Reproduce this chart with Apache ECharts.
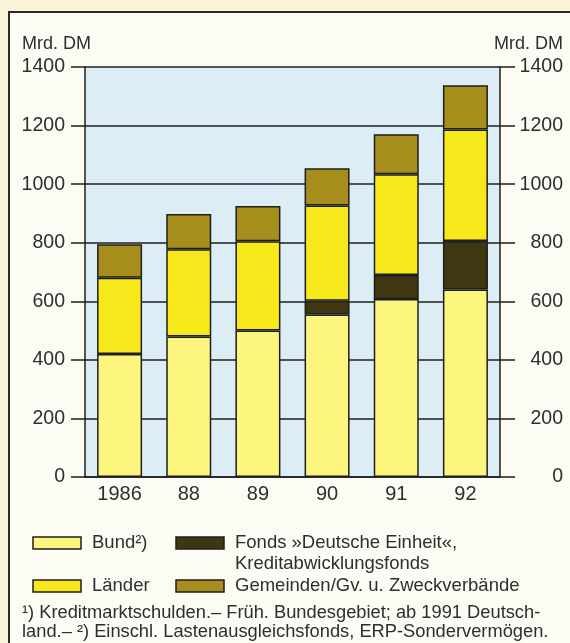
<!DOCTYPE html>
<html>
<head>
<meta charset="utf-8">
<script src="https://cdn.jsdelivr.net/npm/echarts@6/dist/echarts.min.js"></script>
<style>
  html, body { margin: 0; padding: 0; background: #faf5d8; overflow: hidden; }
  #wrap { position: relative; width: 570px; height: 643px; }
  #frame { position: absolute; left: 8px; top: 11px; width: 600px; height: 700px;
           border: 2px solid #2a2a2a; background: #fcfbf4; }
  #chart { position: absolute; left: 0; top: 0; width: 570px; height: 643px; }
</style>
</head>
<body>
<div id="wrap"><div id="frame"></div><div id="chart"></div></div>
<script>
// Kreditmarktschulden der öffentlichen Haushalte, Mrd. DM
const years     = ['1986', '88', '89', '90', '91', '92'];
const bund      = [420, 480, 500, 555, 608, 640];
const fonds     = [null, null, null, 47, 82, 166];
const laender   = [260, 298, 305, 325, 344, 381];
const gemeinden = [115, 120, 120, 127, 136, 151];

const seriesNames = [
  'Bund²)',
  'Fonds »Deutsche Einheit«,\nKreditabwicklungsfonds',
  'Länder',
  'Gemeinden/Gv. u. Zweckverbände'
];
const colors = ['#fcf57e', '#3f3612', '#f7e81c', '#a68d1c'];

const FONT = 'Liberation Sans';
const TXT = '#2e2e2e';
const LINE = '#1e1e1e';

const chart = echarts.init(document.getElementById('chart'), null, { renderer: 'canvas' });

function barSeries(name, data, color) {
  return {
    name: name,
    type: 'bar',
    stack: 'schulden',
    data: data,
    barWidth: 45,
    itemStyle: { color: color, borderColor: LINE, borderWidth: 1.5 },
    emphasis: { disabled: true }
  };
}

// legend drawn as swatch + label pairs
const legendItems = [
  { idx: 0, x: 33,  y: 543 },
  { idx: 1, x: 176, y: 543 },
  { idx: 2, x: 33,  y: 586 },
  { idx: 3, x: 176, y: 586 }
];
const graphics = [];
legendItems.forEach(function (it) {
  graphics.push({
    type: 'rect',
    shape: { x: it.x, y: it.y - 6, width: 48, height: 12 },
    style: { fill: colors[it.idx], stroke: LINE, lineWidth: 1.5 }
  });
  const lines = seriesNames[it.idx].split('\n');
  lines.forEach(function (t, k) {
    graphics.push({
      type: 'text',
      x: it.x + 59, y: it.y + k * 21,
      style: { text: t, font: '18.5px "' + FONT + '"', fill: TXT, textVerticalAlign: 'middle', textAlign: 'left' }
    });
  });
});

// unit labels
graphics.push({
  type: 'text', x: 22, y: 44,
  style: { text: 'Mrd. DM', font: '18px "' + FONT + '"', fill: TXT, textVerticalAlign: 'middle', textAlign: 'left' }
});
graphics.push({
  type: 'text', x: 563, y: 44,
  style: { text: 'Mrd. DM', font: '18px "' + FONT + '"', fill: TXT, textVerticalAlign: 'middle', textAlign: 'right' }
});

// footnotes
const footnotes = [
  '¹) Kreditmarktschulden.– Früh. Bundesgebiet; ab 1991 Deutsch-',
  'land.– ²) Einschl. Lastenausgleichsfonds, ERP-Sondervermögen.'
];
footnotes.forEach(function (t, k) {
  graphics.push({
    type: 'text', x: 22, y: 613 + k * 19,
    style: { text: t, font: '18.3px "' + FONT + '"', fill: TXT, textVerticalAlign: 'middle', textAlign: 'left' }
  });
});

const plainNum = function (v) { return String(v); };

const yCommon = {
  type: 'value',
  min: 0,
  max: 1400,
  interval: 200,
  axisLine: { show: true, lineStyle: { color: LINE, width: 1.5 } },
  axisTick: { show: true, length: 14, lineStyle: { color: LINE, width: 1.5 } },
};

chart.setOption({
  backgroundColor: 'transparent',
  animation: false,
  grid: {
    left: 85, right: 70, top: 67, bottom: 166,
    show: true, backgroundColor: '#ddedf6', borderWidth: 0
  },
  xAxis: {
    type: 'category',
    data: years,
    axisLine: { show: true, lineStyle: { color: LINE, width: 1.5 } },
    axisTick: { show: false },
    axisLabel: { color: TXT, fontFamily: FONT, fontSize: 20, margin: 7 }
  },
  yAxis: [
    Object.assign({}, yCommon, {
      position: 'left',
      axisLabel: { color: TXT, fontFamily: FONT, fontSize: 19.5, margin: 20, formatter: plainNum },
      splitLine: { show: true, lineStyle: { color: LINE, width: 1.5 } }
    }),
    Object.assign({}, yCommon, {
      position: 'right',
      axisTick: { show: true, length: 15, lineStyle: { color: LINE, width: 1.5 } },
      axisLabel: { color: TXT, fontFamily: FONT, fontSize: 19.5, margin: 63, align: 'right', formatter: plainNum },
      splitLine: { show: false }
    })
  ],
  series: [
    barSeries(seriesNames[0], bund, colors[0]),
    barSeries(seriesNames[1], fonds, colors[1]),
    barSeries(seriesNames[2], laender, colors[2]),
    barSeries(seriesNames[3], gemeinden, colors[3])
  ],
  graphic: graphics
});
</script>
</body>
</html>
